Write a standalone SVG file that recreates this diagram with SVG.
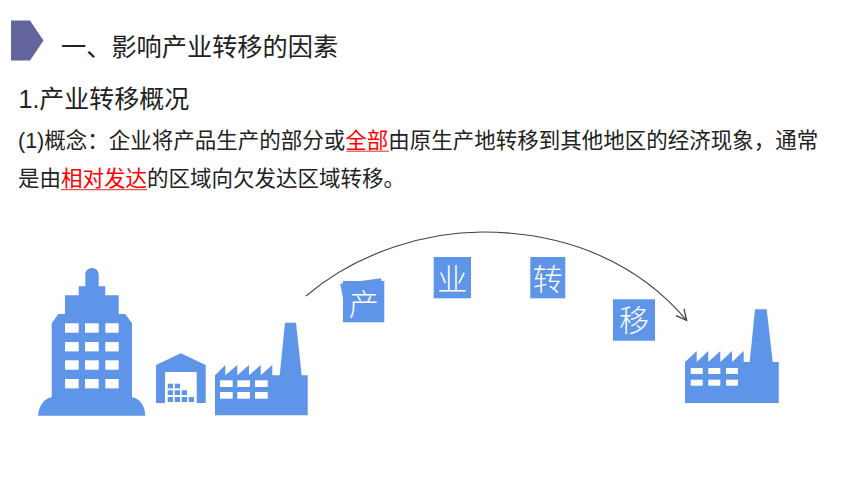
<svg xmlns="http://www.w3.org/2000/svg" width="860" height="484" viewBox="0 0 860 484">
<style>
.t{font-family:"Liberation Sans","Noto Sans CJK SC",sans-serif;fill:#222}
.h{font-size:25px}
.b{font-size:21.5px}
.r{fill:#f00}
.i{fill:#5f95e8}
.w{fill:#fff}
.s{font-family:"Noto Sans CJK SC",sans-serif;font-size:30px;font-weight:300;fill:#fff;text-anchor:middle}
.c{fill:none;stroke:#404040;stroke-width:1.1}
</style>
<defs>
<marker id="a" markerUnits="userSpaceOnUse" markerWidth="14" markerHeight="14" refX="10" refY="6" orient="auto" viewBox="0 0 12 12"><path d="M1,1.5L10,6L1,10.5" fill="none" stroke="#404040" stroke-width="1.1"/></marker>
</defs>
<rect width="860" height="484" fill="#fff"/>
<polygon id="title-marker" points="11,20.5 30,20.5 43.500,40.500 30,60.500 11,60.500" fill="#64649c"/>
<g id="texts">
<text class="t h" x="61" y="56" style="font-size:25.2px">一、影响产业转移的因素</text>
<text class="t h" x="18.500" y="108">1.产业转移概况</text>
<text class="t b" x="18" y="147.500">(1)概念：企业将产品生产的部分或<tspan class="r">全部</tspan>由原生产地转移到其他地区的经济现象，通常</text>
<text class="t b" x="18" y="185.500">是由<tspan class="r">相对发达</tspan>的区域向欠发达区域转移。</text>
<path d="M346.500,151.200H389M61,189.700H147" stroke="#e03030" stroke-width="1" fill="none"/>
</g>
<g id="office-building">
<path class="i" d="M38,415.700C39,405 45,398 51.700,397.300V323.300L58.300,314H65V295.300H78.700V286.300H85.300V275C85.300,271 88,268 92,268C96,268 98.700,271 98.700,275V286.300H105.300V295.300H118.700V314H125.300L132,323.300V397.300C139,398 145,405 145.300,415.700Z"/>
<g class="w"><rect x="65" y="323.300" width="13.700" height="9.400"/><rect x="85" y="323.300" width="13.700" height="9.400"/><rect x="105.300" y="323.300" width="13.400" height="9.400"/><rect x="65" y="342" width="13.700" height="9.400"/><rect x="85" y="342" width="13.700" height="9.400"/><rect x="105.300" y="342" width="13.400" height="9.400"/><rect x="65" y="360.300" width="13.700" height="9.400"/><rect x="85" y="360.300" width="13.700" height="9.400"/><rect x="105.300" y="360.300" width="13.400" height="9.400"/><rect x="65" y="379" width="13.700" height="9.400"/><rect x="85" y="379" width="13.700" height="9.400"/><rect x="105.300" y="379" width="13.400" height="9.400"/></g>
</g>
<g id="warehouse">
<path class="i" d="M156,403V365L180.700,353.300L205.700,365V403H196.700V372H165V403Z"/>
<g class="i"><rect x="167.700" y="383.700" width="5.300" height="4.700"/><rect x="174.700" y="383.700" width="5.300" height="4.700"/><rect x="167.700" y="390.300" width="5.300" height="4.700"/><rect x="174.700" y="390.300" width="5.300" height="4.700"/><rect x="181.700" y="390.300" width="5.300" height="4.700"/><rect x="167.700" y="397" width="5.300" height="5"/><rect x="174.700" y="397" width="5.300" height="5"/><rect x="181.700" y="397" width="5.300" height="5"/><rect x="188.700" y="397" width="5.300" height="5"/></g>
</g>
<g id="factory-left">
<path class="i" d="M215,415.300V375.300L225.300,365V375.300L237.300,365V375.300L249,365V375.300L260.700,365V375.300L272.300,365V375.300H279.700L285,322.700H296L301.700,375.300H307.700V415.300Z"/>
<g class="w"><rect x="220" y="380.300" width="12.700" height="6.700"/><rect x="237.300" y="380.300" width="12.700" height="6.700"/><rect x="255" y="380.300" width="12.700" height="6.700"/><rect x="220" y="392" width="12.700" height="6.700"/><rect x="237.300" y="392" width="12.700" height="6.700"/><rect x="255" y="392" width="12.700" height="6.700"/></g>
</g>
<g id="card-chan">
<polygon class="i" points="340.300,283.700 381,278.300 382,285 343.300,300"/>
<rect class="i" x="343" y="281" width="41.300" height="41.300"/>
<text class="s" x="363.700" y="314.500">产</text>
</g>
<g id="card-ye">
<rect class="i" x="433.700" y="257" width="37.300" height="41.300"/>
<text class="s" x="452.300" y="289.500">业</text>
</g>
<g id="card-zhuan">
<rect class="i" x="530.300" y="257" width="35" height="41.300"/>
<text class="s" x="547.800" y="289.500">转</text>
</g>
<g id="card-yi">
<rect class="i" x="613" y="299.300" width="42" height="41.400"/>
<text class="s" x="634" y="331">移</text>
</g>
<g id="factory-right">
<path class="i" d="M685,403V362L696.700,351V362L708.300,351V362L720.300,351V362L732,351V362L743.700,351V362H749.700L755,309.300H766.700L772.700,362H778.700V403Z"/>
<g class="w"><rect x="690.700" y="368" width="12" height="6"/><rect x="708.300" y="368" width="12" height="6"/><rect x="726" y="368" width="12" height="6"/><rect x="690.700" y="379.700" width="12" height="6"/><rect x="708.300" y="379.700" width="12" height="6"/><rect x="726" y="379.700" width="12" height="6"/></g>
</g>
<g id="connectors">
<path class="c" marker-end="url(#a)" d="M306,296C360,250 430,232 482,232C570,232 640,265 686.700,320.300"/>
</g>
</svg>
